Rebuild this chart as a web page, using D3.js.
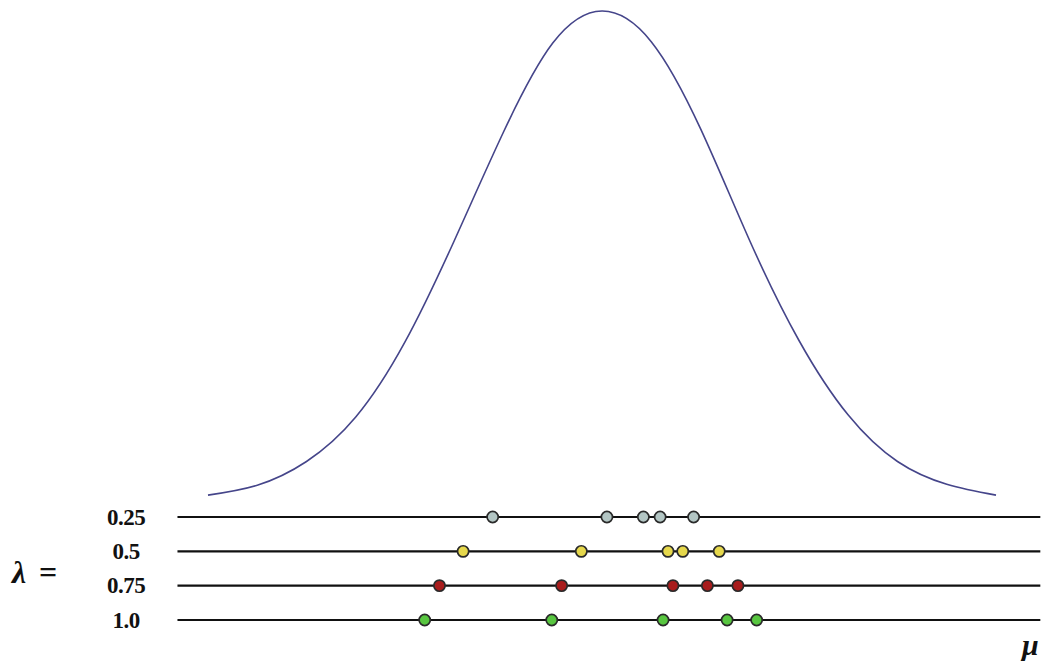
<!DOCTYPE html>
<html><head><meta charset="utf-8">
<script src="https://cdn.jsdelivr.net/npm/d3@7/dist/d3.min.js"></script>
<style>html,body{margin:0;padding:0;background:#fff;}svg{display:block;}</style>
</head><body>
<svg id="chart" width="1046" height="667"></svg>
<script>
// ---- data ----
const curveMu = [-4.0,-3.5,-3.0,-2.5,-2.0,-1.5,-1.0,-0.5,0,0.5,1.0,1.5,2.0,2.5,3.0,3.5,4.0];
const curveDensity = [0.020,0.040,0.088,0.178,0.330,0.535,0.755,0.935,1.0,0.938,0.762,0.535,0.333,0.182,0.088,0.042,0.020];
const lambdas = ["0.25","0.5","0.75","1.0"];
const samples025 = [-1.11,0.05,0.42,0.59,0.93];
const samples05  = [-1.41,-0.21,0.67,0.82,1.19];
const samples075 = [-1.65,-0.41,0.72,1.07,1.38];
const samples10  = [-1.80,-0.51,0.62,1.27,1.57];
const sampleSets = [samples025, samples05, samples075, samples10];
const dotColors = ["#b3c6c4","#e6d84c","#a81c1c","#58c640"];
const ruleExtent = [-4.31, 4.45];

// ---- drawing ----
const svg = d3.select("#chart");
const x = d3.scaleLinear().domain([-4, 4]).range([208, 996]);
const y = d3.scaleLinear().domain([0, 1]).range([505, 11]);
const row = d3.scalePoint().domain(lambdas).range([517, 620]);

const pts = curveMu.map((m, i) => [m, curveDensity[i]]);
svg.append("path")
  .attr("d", d3.line().x(d => x(d[0])).y(d => y(d[1])).curve(d3.curveNatural)(pts))
  .attr("fill", "none").attr("stroke", "#45458a").attr("stroke-width", 1.6);

lambdas.forEach((lam, i) => {
  const g = svg.append("g");
  g.append("line")
    .attr("x1", x(ruleExtent[0])).attr("x2", x(ruleExtent[1]))
    .attr("y1", row(lam)).attr("y2", row(lam))
    .attr("stroke", "#111").attr("stroke-width", 2.2);
  g.append("text").text(lam)
    .attr("x", 126).attr("y", row(lam)).attr("dy", "0.33em")
    .attr("text-anchor", "middle")
    .attr("font-family", "'Liberation Serif', 'DejaVu Serif', serif")
    .attr("font-weight", "bold").attr("font-size", 23)
    .attr("letter-spacing", -0.5).attr("fill", "#111");
  g.selectAll("circle").data(sampleSets[i]).join("circle")
    .attr("cx", d => x(d)).attr("cy", row(lam)).attr("r", 5.6)
    .attr("fill", dotColors[i]).attr("stroke", "#2a2a2a").attr("stroke-width", 1.7);
});

const lamLabel = svg.append("text")
  .attr("x", 12).attr("y", 572).attr("dy", "0.33em")
  .attr("font-family", "'Liberation Serif', 'DejaVu Serif', serif")
  .attr("font-weight", "bold").attr("font-size", 32).attr("fill", "#111");
lamLabel.append("tspan").attr("font-style", "italic").text("λ");
lamLabel.append("tspan").attr("x", 39).text("=");

svg.append("text").text("μ")
  .attr("x", 1022).attr("y", 655)
  .attr("font-family", "'Liberation Serif', 'DejaVu Serif', serif")
  .attr("font-weight", "bold").attr("font-style", "italic").attr("font-size", 30).attr("fill", "#111");
</script>
</body></html>
